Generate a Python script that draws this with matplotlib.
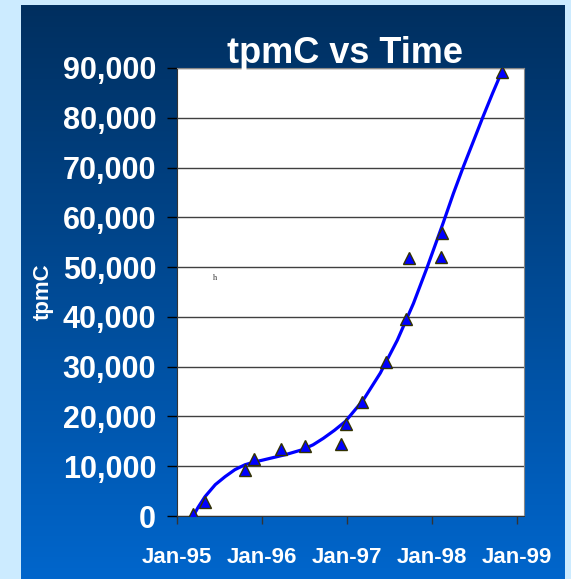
import numpy as np
import matplotlib
matplotlib.use('Agg')
import matplotlib.pyplot as plt

plt.rcParams['font.family'] = ['Liberation Sans', 'DejaVu Sans']

# measured points (decimal year, tpmC)
years = [1995.19, 1995.33, 1995.80, 1995.91, 1996.22, 1996.51, 1996.93, 1996.99,
         1997.18, 1997.46, 1997.69, 1997.73, 1998.10, 1998.12, 1998.82]
tpmc = [400, 2900, 9150, 11400, 13500, 14100, 14450, 18400,
        23000, 31000, 39600, 51800, 52000, 56800, 89200]

# smoothed trend curve
trend_years = [1995.19, 1995.25, 1995.33, 1995.45, 1995.565, 1995.68, 1995.80, 1995.92,
               1996.0, 1996.27, 1996.47, 1996.60, 1996.72, 1996.85, 1996.98, 1997.19,
               1997.39, 1997.59, 1997.78, 1997.94, 1998.13, 1998.25, 1998.37, 1998.49,
               1998.60, 1998.71, 1998.82]
trend_tpmc = [0, 1800, 3900, 6300, 7900, 9300, 10300, 10900,
              11200, 12300, 13300, 14300, 15600, 17200, 19000, 23300,
              28700, 35300, 42700, 49900, 58900, 64800, 70300, 75500,
              80300, 84900, 89300]

tick_years = [1995, 1996, 1997, 1998, 1999]
tick_labels = ['Jan-95', 'Jan-96', 'Jan-97', 'Jan-98', 'Jan-99']
y_ticks = list(range(0, 90001, 10000))

fig = plt.figure(figsize=(5.71, 5.79), dpi=100)
fig.patch.set_facecolor('#CCEBFF')

# gradient panel behind the chart
bg = fig.add_axes([21/571, 0, (565-21)/571, (579-5)/579], zorder=0)
grad = np.linspace(0, 1, 256).reshape(-1, 1)
top = np.array([0x00, 0x2F, 0x5F]) / 255
bot = np.array([0x00, 0x66, 0xCC]) / 255
img = top[None, None, :] * (1 - grad[:, :, None]) + bot[None, None, :] * grad[:, :, None]
bg.imshow(img, aspect='auto', extent=[0, 1, 0, 1])
bg.axis('off')

ax = fig.add_axes([177/571, 1-516/579, (524-177)/571, (516-68)/579], zorder=1)
ax.set_facecolor('white')

ax.plot(trend_years, trend_tpmc, color='#0000FF', lw=2.3, solid_joinstyle='round',
        solid_capstyle='round', zorder=3)
ax.plot(years, tpmc, ls='none', marker='^', ms=9, mfc='#0000FF', mec='#333300',
        mew=1.0, zorder=4)

ax.set_xlim(1995.0, 1999.08)
ax.set_ylim(0, 90000)
ax.set_xticks(tick_years)
ax.set_xticklabels(tick_labels)
ax.set_yticks(y_ticks)
ax.set_yticklabels([f'{v:,}' for v in y_ticks])

ax.yaxis.grid(True, color='#404040', lw=1.0)
ax.set_axisbelow(True)

for lab in ax.get_yticklabels():
    lab.set_fontsize(22)
    lab.set_fontweight('bold')
    lab.set_color('white')
for lab in ax.get_xticklabels():
    lab.set_fontsize(16)
    lab.set_fontweight('bold')
    lab.set_color('white')

ax.tick_params(axis='y', length=7, width=1, color='black', pad=8)
ax.tick_params(axis='x', length=6, width=1, color='#333333', pad=16)

ax.spines['left'].set_color('#333333')
ax.spines['bottom'].set_color('#333333')
ax.spines['top'].set_color('#888888')
ax.spines['right'].set_color('#888888')

ax.set_ylabel('tpmC', color='white', fontsize=16, fontweight='bold')
ax.yaxis.set_label_coords(-0.355, 0.5)

# stray character in the original plot area
ax.text(1995.45, 47900, 'h', fontsize=6, family='Liberation Serif', color='#333333',
        ha='center', va='center')

fig.text(345/571, 1-63/579, 'tpmC vs Time', color='white', fontsize=26,
         fontweight='bold', ha='center', va='baseline')

fig.savefig('out.png', dpi=100, facecolor=fig.get_facecolor())
